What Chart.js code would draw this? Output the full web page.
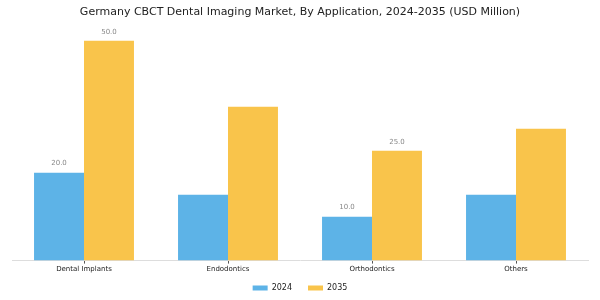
<!DOCTYPE html>
<html>
<head>
<meta charset="utf-8">
<script src="https://cdn.jsdelivr.net/npm/chart.js@4.4.0/dist/chart.umd.min.js"></script>
<style>
  html, body { margin: 0; padding: 0; background: #fff; }
  #wrap { width: 600px; height: 300px; }
</style>
</head>
<body>
<div id="wrap"><canvas id="chart"></canvas></div>
<script>
// Data
const categories = ['Dental Implants', 'Endodontics', 'Orthodontics', 'Others'];
const values2024 = [20, 15, 10, 15];
const values2035 = [50, 35, 25, 30];
// which bars carry a value label in the original, [datasetIndex, index]
const labelledBars = [[0, 0], [1, 0], [0, 2], [1, 2]];

const FONT = "'DejaVu Sans', sans-serif";

// Value labels above selected bars
const valueLabels = {
  id: 'valueLabels',
  afterDatasetsDraw(chart) {
    const ctx = chart.ctx;
    ctx.save();
    ctx.font = '7px ' + FONT;
    ctx.fillStyle = '#888';
    ctx.textAlign = 'center';
    ctx.textBaseline = 'middle';
    labelledBars.forEach(([d, i]) => {
      const bar = chart.getDatasetMeta(d).data[i];
      const v = chart.data.datasets[d].data[i];
      ctx.fillText(v.toFixed(1), bar.x, bar.y - 9);
    });
    ctx.restore();
  }
};

// wide legend spacing pushes the legend too low, nudge it back up
const legendNudge = {
  id: 'legendNudge',
  afterLayout(chart) {
    const lg = chart.legend;
    if (lg) { lg.top -= 6; lg.bottom -= 6; }
  }
};

new Chart(document.getElementById('chart'), {
  type: 'bar',
  data: {
    labels: categories,
    datasets: [
      { label: '2024', data: values2024, backgroundColor: '#5db3e7' },
      { label: '2035', data: values2035, backgroundColor: '#f9c44b' },
    ],
  },
  options: {
    responsive: true,
    maintainAspectRatio: false,
    animation: false,
    datasets: { bar: { categoryPercentage: 0.694, barPercentage: 1.0 } },
    layout: { padding: { left: 12, right: 12, top: 0, bottom: -8 } },
    plugins: {
      title: {
        display: true,
        text: 'Germany CBCT Dental Imaging Market, By Application, 2024-2035 (USD Million)',
        color: '#222',
        font: { family: FONT, size: 11, weight: 'normal' },
        padding: { top: 6, bottom: 4 },
      },
      legend: {
        position: 'bottom',
        labels: {
          color: '#222',
          font: { family: FONT, size: 8 },
          boxWidth: 15,
          boxHeight: 5,
          padding: 16,
        },
      },
      tooltip: { enabled: false },
    },
    scales: {
      x: {
        grid: { display: true, offset: false, drawOnChartArea: false, drawTicks: true, tickLength: 3, color: '#555' },
        border: { display: true, color: '#ddd' },
        ticks: { color: '#222', font: { family: FONT, size: 7 }, padding: 1 },
      },
      y: {
        display: false,
        min: 0,
        max: 54,
      },
    },
  },
  plugins: [valueLabels, legendNudge],
});
</script>
</body>
</html>
